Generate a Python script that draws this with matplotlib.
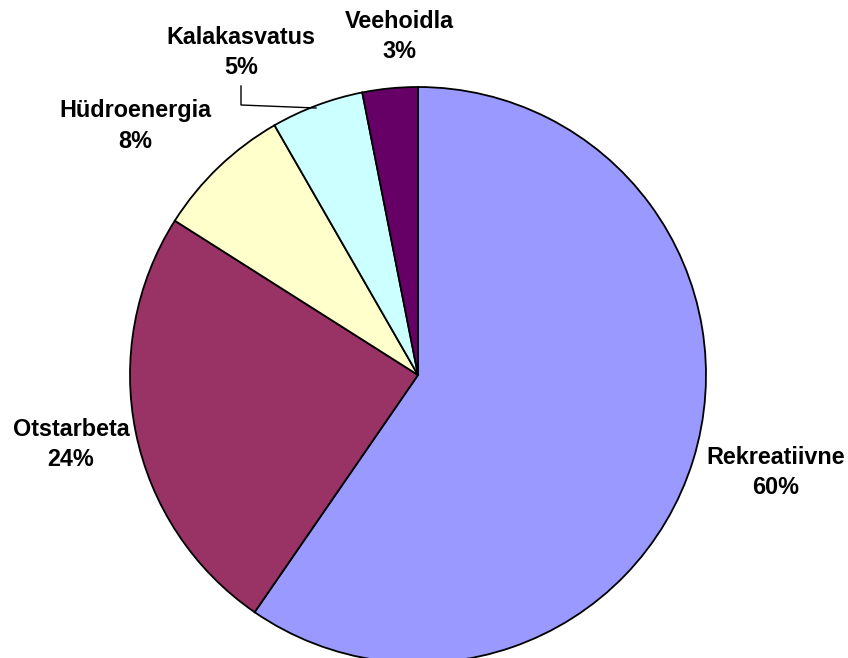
import matplotlib
matplotlib.use("Agg")
from matplotlib import pyplot as plt

names = ["Rekreatiivne", "Otstarbeta", "Hüdroenergia", "Kalakasvatus", "Veehoidla"]
shares = [59.6, 24.4, 7.7, 5.2, 3.1]
colors = ["#9999FF", "#993366", "#FFFFCC", "#CCFFFF", "#660066"]

# label centres in pixel coords (y from top)
label_xy = [(776, 472), (71, 444), (135, 126), (241, 52), (399, 36)]

W, H = 848, 658
fig = plt.figure(figsize=(W / 100, H / 100), dpi=100)
ax = fig.add_axes([0, 0, 1, 1])

ax.pie(shares, colors=colors, startangle=90, counterclock=False,
       center=(418, H - 375), radius=288,
       wedgeprops=dict(edgecolor="black", linewidth=1.3))
ax.set_xlim(0, W)
ax.set_ylim(0, H)
ax.set_aspect("equal")
ax.axis("off")

for name, v, (x, y) in zip(names, shares, label_xy):
    kw = dict(ha="center", va="center", fontsize=16.8, fontweight="bold",
              family="Liberation Sans")
    ax.text(x, H - y + 15, name, **kw)
    ax.text(x, H - y - 15, "%d%%" % round(v), **kw)

# leader line for Kalakasvatus
ax.plot([241, 241, 316], [H - 86, H - 105, H - 108], color="black", lw=1.0)

fig.savefig("out.png", dpi=100)
